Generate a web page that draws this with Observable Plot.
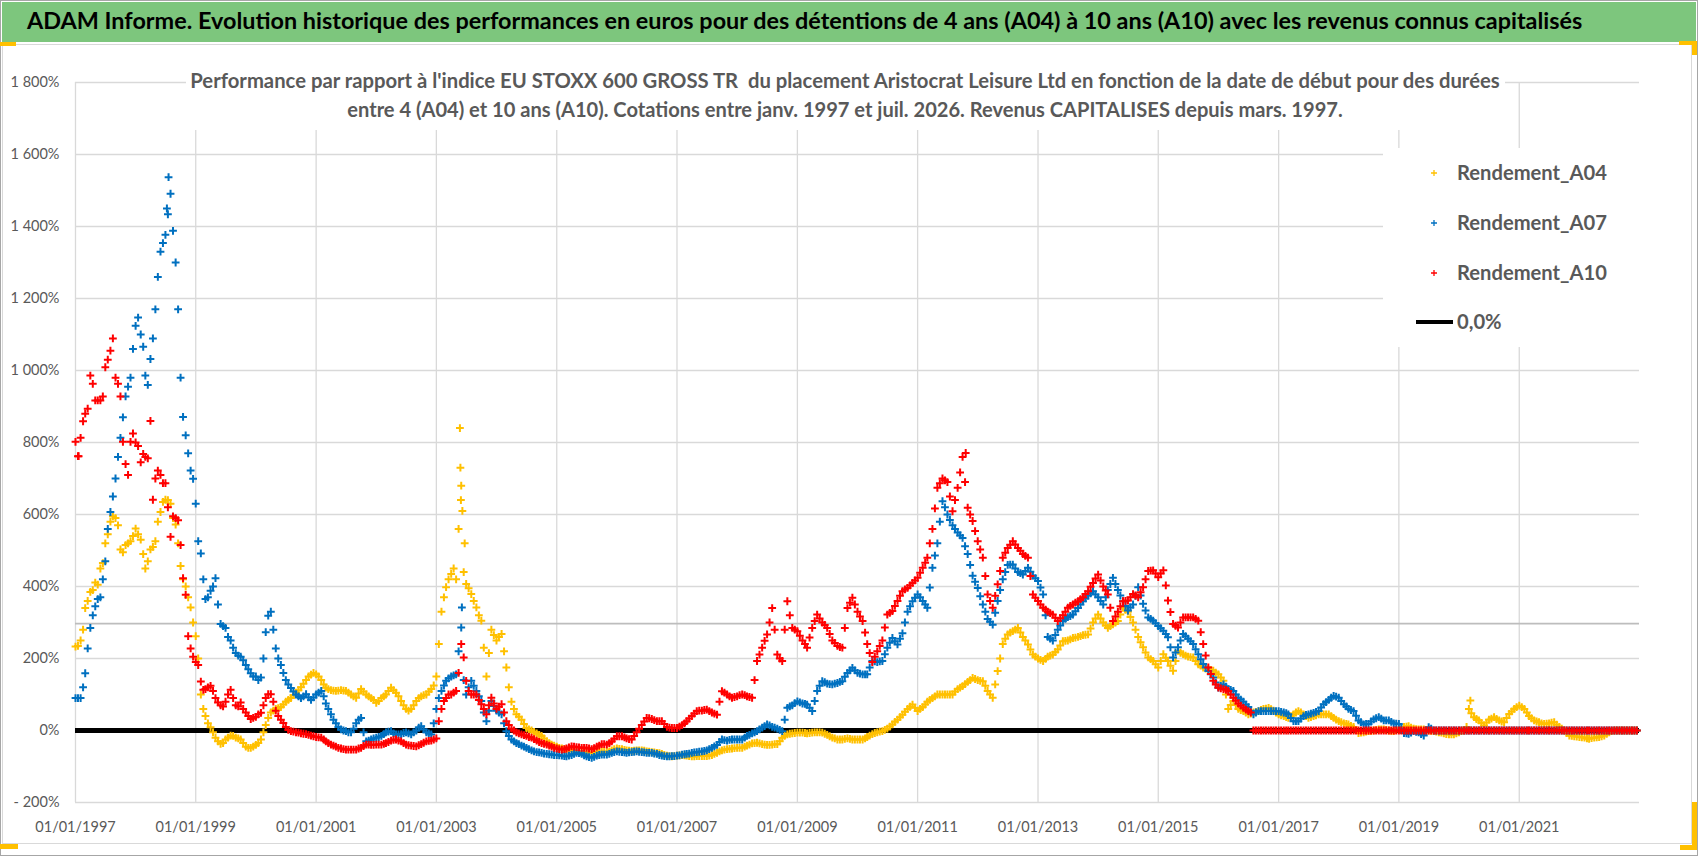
<!DOCTYPE html>
<html><head><meta charset="utf-8">
<script src="https://cdn.jsdelivr.net/npm/d3@7"></script>
<script src="https://cdn.jsdelivr.net/npm/@observablehq/plot@0.6"></script>
<style>
html,body{margin:0;padding:0;background:#fff;}
#root{position:relative;width:1698px;height:856px;overflow:hidden;font-family:Lato,"Open Sans",sans-serif;}
.box{position:absolute;box-sizing:border-box;}
.txt{position:absolute;white-space:pre;line-height:1;}
#root svg{position:absolute;left:0;top:0;}
</style></head><body><div id="root"></div>
<script>
// ---------- data: readings on the 1st of each month (a0x) and mid-month (a0xMid), first = janv. 1997 ----------
const startYear = 1997;
const a04 = [
 233, 250, 340, 385, 411, 450, 520, 580, 590, 503, 515, 526,
 561, 530, 450, 503, 526, 607, 641, 630, 572, 457, 400, 342,
 262, 100, 40, 9, -20, -37, -25, -14, -20, -25, -45, -48,
 -40, -25, 15, 50, 60, 65, 80, 90, 105, 120, 140, 155,
 156, 140, 119, 112, 110, 112, 110, 100, 91, 115, 100, 90,
 77, 90, 100, 119, 105, 82, 60, 60, 82, 95, 100, 115,
 150, 330, 398, 435, 420, 680, 407, 379, 342, 305, 150, 280,
 250, 268, 175, 80, 45, 30, 7, 0, -8, -15, -30, -39,
 -45, -50, -55, -55, -58, -60, -62, -62, -60, -58, -60, -55,
 -50, -52, -55, -57, -55, -55, -58, -60, -62, -65, -70, -72,
 -70, -68, -70, -72, -71, -71, -71, -68, -62, -55, -52, -50,
 -48, -48, -42, -36, -34, -38, -40, -39, -38, -20, -11, -8,
 -6, -6, -8, -6, -5, -6, -12, -20, -25, -25, -22, -25,
 -25, -25, -18, -10, -5, -2, 5, 17, 30, 44, 60, 72,
 54, 65, 80, 90, 100, 100, 100, 100, 115, 123, 135, 146,
 140, 137, 110, 91, 165, 240, 267, 276, 285, 260, 239, 211,
 200, 193, 205, 211, 225, 248, 250, 257, 260, 265, 267, 300,
 322, 300, 285, 295, 304, 341, 330, 300, 260, 231, 203, 193,
 175, 212, 193, 166, 221, 212, 205, 203, 184, 175, 170, 166,
 156, 138, 60, 82, 60, 54, 45, 50, 54, 60, 63, 55,
 45, 40, 35, 45, 54, 45, 35, 40, 45, 45, 45, 35,
 26, 20, 17, 10, -7, -5, -2, 0, 3, 3, 0, -2,
 5, 10, 12, 5, 3, 3, 0, -2, -5, -8, -11, -11,
 -5, 0, 60, 37, 28, 14, 30, 37, 28, 23, 46, 60,
 69, 60, 40, 28, 23, 18, 20, 23, 10, 0, -14, -16,
 -18, -20, -23, -20, -18, -14, -5, 0, 0, 0, 0, 0
];
const a04Mid = [
 235, 280, 360, 390, 405, 465, 545, 595, 570, 495, 520, 540,
 545, 490, 470, 510, 580, 635, 640, 590, 520, 420, 370, 300,
 200, 60, 20, -5, -30, -35, -20, -15, -22, -35, -48, -45,
 -35, -5, 35, 55, 62, 72, 85, 98, 112, 130, 150, 160,
 150, 128, 115, 111, 111, 111, 105, 95, 103, 108, 95, 85,
 82, 95, 110, 112, 95, 70, 55, 70, 90, 98, 108, 125,
 240, 370, 420, 450, 560, 440, 395, 360, 320, 230, 215, 265,
 260, 220, 120, 60, 38, 18, 3, -4, -12, -22, -35, -42,
 -48, -52, -55, -57, -59, -61, -62, -61, -59, -59, -58, -52,
 -51, -54, -56, -56, -55, -56, -59, -61, -63, -68, -71, -71,
 -69, -69, -71, -72, -71, -71, -70, -65, -58, -53, -51, -49,
 -48, -45, -39, -35, -36, -39, -40, -38, -30, -15, -9, -7,
 -6, -7, -7, -5, -5, -9, -16, -22, -25, -23, -23, -25,
 -25, -22, -14, -7, -3, 2, 11, 24, 37, 52, 66, 63,
 60, 72, 85, 95, 100, 100, 100, 108, 119, 129, 140, 143,
 138, 124, 100, 128, 200, 255, 272, 280, 272, 250, 225, 205,
 196, 199, 208, 218, 236, 249, 253, 258, 262, 266, 283, 311,
 311, 292, 290, 300, 322, 335, 315, 280, 245, 217, 198, 184,
 193, 202, 180, 193, 216, 208, 204, 193, 180, 172, 168, 161,
 147, 100, 71, 71, 57, 50, 47, 52, 57, 61, 59, 50,
 42, 37, 40, 50, 50, 40, 37, 42, 45, 45, 40, 30,
 23, 18, 13, 2, -6, -3, -1, 2, 3, 2, -1, 2,
 7, 11, 8, 4, 3, 2, -1, -3, -6, -10, -11, -8,
 -2, 10, 48, 32, 21, 22, 33, 32, 25, 35, 53, 65,
 65, 50, 34, 25, 20, 19, 22, 16, 5, -7, -15, -17,
 -19, -22, -21, -19, -16, -9, -2, 0, 0, 0, 0, 0
];
const a07 = [
 90, 90, 159, 285, 345, 370, 470, 607, 700, 813, 928, 980,
 1124, 1100, 986, 1032, 1170, 1330, 1377, 1491, 1300, 980, 820, 722,
 630, 492, 365, 388, 423, 296, 285, 250, 215, 205, 182, 159,
 150, 147, 273, 330, 228, 182, 140, 118, 100, 90, 101, 85,
 100, 110, 75, 45, 20, 3, -2, -5, 20, 35, -30, -25,
 -20, -15, -5, -2, -11, -10, -5, -11, 0, 12, -5, -11,
 60, 110, 138, 150, 156, 286, 100, 138, 110, 82, 26, 82,
 55, 45, -2, -25, -35, -42, -48, -55, -60, -62, -65, -67,
 -68, -70, -72, -68, -62, -65, -72, -76, -70, -67, -67, -62,
 -58, -60, -62, -60, -58, -60, -62, -62, -65, -70, -72, -71,
 -70, -67, -65, -62, -60, -58, -55, -48, -40, -25, -28, -25,
 -25, -25, -15, -8, -2, 8, 17, 10, 5, -2, 63, 70,
 81, 75, 72, 54, 110, 137, 130, 128, 132, 137, 160, 174,
 160, 156, 156, 193, 190, 193, 230, 257, 239, 270, 330, 359,
 378, 360, 341, 452, 520, 637, 600, 570, 550, 535, 490, 430,
 396, 350, 310, 294, 360, 420, 460, 461, 440, 433, 452, 430,
 415, 378, 260, 250, 280, 304, 315, 322, 340, 359, 375, 387,
 370, 350, 390, 424, 390, 359, 333, 350, 398, 352, 314, 305,
 290, 277, 259, 203, 231, 268, 255, 240, 212, 185, 165, 147,
 119, 128, 115, 110, 91, 80, 65, 45, 54, 54, 54, 54,
 54, 50, 45, 26, 26, 40, 45, 49, 54, 73, 85, 96,
 91, 73, 60, 54, 28, 17, 18, 31, 37, 28, 28, 20,
 18, -7, -9, -2, -5, -14, 9, 0, 0, 0, 0, 0,
 0, 0, 0, 0, 0, 0, 0, 0, 0, 0, 0, 0,
 0, 0, 0, 0, 0, 0, 0, 0, 0, 0, 0, 0,
 0, 0, 0, 0, 0, 0, 0, 0, 0, 0, 0, 0
];
const a07Mid = [
 90, 120, 228, 320, 365, 420, 560, 650, 760, 870, 955, 1060,
 1147, 1066, 960, 1089, 1260, 1354, 1434, 1388, 1170, 871, 770, 699,
 526, 420, 370, 400, 350, 290, 260, 230, 208, 195, 170, 150,
 140, 200, 319, 280, 200, 160, 128, 108, 95, 95, 92, 92,
 105, 95, 60, 30, 10, 0, -5, 5, 30, -5, -28, -22,
 -18, -10, -3, -8, -11, -7, -8, -5, 8, 3, -8, 20,
 90, 125, 145, 153, 220, 140, 120, 124, 95, 50, 55, 68,
 50, 20, -15, -30, -38, -45, -52, -58, -61, -64, -66, -68,
 -69, -71, -70, -65, -63, -69, -74, -73, -68, -67, -65, -60,
 -59, -61, -61, -59, -59, -61, -62, -64, -68, -71, -72, -71,
 -69, -66, -64, -61, -59, -57, -52, -44, -32, -27, -26, -25,
 -25, -20, -12, -5, 3, 12, 14, 8, 2, 30, 67, 76,
 78, 74, 63, 82, 124, 134, 129, 130, 135, 149, 167, 167,
 158, 156, 175, 192, 192, 212, 244, 248, 255, 300, 345, 369,
 370, 350, 397, 486, 580, 620, 585, 560, 542, 512, 460, 413,
 373, 330, 302, 327, 390, 440, 461, 450, 437, 443, 441, 423,
 397, 320, 255, 265, 292, 310, 318, 331, 350, 367, 381, 378,
 360, 370, 407, 407, 375, 346, 342, 374, 375, 333, 310, 298,
 284, 268, 231, 217, 250, 262, 248, 226, 198, 175, 156, 133,
 124, 122, 113, 100, 86, 72, 55, 50, 54, 54, 54, 54,
 52, 48, 35, 26, 33, 43, 47, 52, 64, 79, 91, 94,
 82, 67, 57, 41, 23, 18, 25, 34, 33, 28, 24, 19,
 5, -8, -6, -4, -10, -3, 5, 0, 0, 0, 0, 0,
 0, 0, 0, 0, 0, 0, 0, 0, 0, 0, 0, 0,
 0, 0, 0, 0, 0, 0, 0, 0, 0, 0, 0, 0,
 0, 0, 0, 0, 0, 0, 0, 0, 0, 0, 0, 0
];
const a10 = [
 802, 813, 880, 986, 917, 917, 1009, 1055, 980, 928, 740, 802,
 800, 745, 760, 860, 700, 710, 687, 538, 590, 515, 377, 228,
 190, 136, 115, 124, 90, 70, 80, 113, 70, 78, 50, 32,
 38, 49, 90, 101, 55, 30, 10, -2, -5, -8, -10, -14,
 -18, -20, -30, -39, -45, -50, -53, -53, -53, -48, -39, -40,
 -39, -39, -35, -28, -25, -30, -39, -42, -44, -38, -30, -28,
 -22, 60, 90, 100, 110, 240, 138, 100, 100, 73, 45, 91,
 60, 73, 26, 5, -5, -11, -15, -20, -28, -35, -39, -45,
 -50, -53, -50, -44, -46, -48, -48, -52, -45, -38, -39, -30,
 -16, -16, -22, -25, -5, 15, 35, 32, 26, 26, 10, 7,
 7, 15, 26, 40, 54, 55, 58, 50, 44, 109, 100, 91,
 95, 100, 95, 91, 193, 230, 267, 340, 211, 193, 359, 285,
 276, 250, 230, 285, 322, 300, 285, 250, 235, 230, 340, 369,
 330, 304, 240, 190, 220, 250, 322, 332, 360, 387, 396, 410,
 424, 452, 480, 560, 674, 700, 690, 609, 674, 760, 619, 582,
 526, 480, 378, 341, 406, 480, 507, 526, 507, 490, 480, 378,
 360, 341, 330, 322, 304, 320, 341, 350, 359, 370, 387, 410,
 433, 400, 378, 304, 330, 359, 361, 379, 370, 398, 443, 445,
 426, 445, 361, 296, 286, 314, 314, 314, 305, 240, 175, 138,
 119, 115, 110, 91, 75, 63, 54, 0, 0, 0, 0, 0,
 0, 0, 0, 0, 0, 0, 0, 0, 0, 0, 0, 0,
 0, 0, 0, 0, 0, 0, 0, 0, 0, 0, 0, 0,
 0, 0, 0, 0, 0, 0, 0, 0, 0, 0, 0, 0,
 0, 0, 0, 0, 0, 0, 0, 0, 0, 0, 0, 0,
 0, 0, 0, 0, 0, 0, 0, 0, 0, 0, 0, 0,
 0, 0, 0, 0, 0, 0, 0, 0, 0, 0, 0, 0
];
const a10Mid = [
 762, 859, 894, 963, 917, 928, 1030, 1089, 963, 802, 710, 825,
 790, 768, 756, 641, 722, 687, 620, 595, 584, 423, 262, 205,
 182, 113, 120, 110, 78, 67, 100, 90, 67, 60, 40, 35,
 45, 70, 101, 80, 40, 21, 2, -3, -6, -9, -12, -16,
 -19, -25, -35, -42, -48, -52, -53, -53, -50, -43, -39, -40,
 -39, -37, -32, -26, -28, -35, -41, -43, -41, -34, -29, -25,
 26, 82, 100, 105, 160, 203, 110, 100, 85, 60, 70, 75,
 66, 50, 15, 0, -8, -13, -18, -24, -32, -37, -42, -48,
 -52, -52, -47, -45, -47, -48, -50, -49, -42, -38, -35, -23,
 -16, -19, -24, -15, 5, 25, 34, 29, 26, 18, 8, 7,
 11, 20, 33, 47, 55, 57, 54, 47, 80, 105, 95, 93,
 98, 98, 93, 140, 211, 249, 300, 280, 200, 280, 320, 280,
 263, 240, 258, 304, 311, 293, 268, 243, 232, 285, 355, 350,
 317, 272, 215, 205, 235, 286, 327, 346, 374, 392, 403, 417,
 438, 466, 520, 617, 687, 695, 650, 640, 717, 690, 600, 554,
 503, 429, 360, 374, 443, 494, 516, 517, 499, 485, 429, 369,
 350, 336, 326, 313, 312, 330, 346, 355, 365, 379, 399, 422,
 417, 389, 341, 317, 345, 360, 370, 375, 384, 420, 444, 436,
 436, 403, 329, 291, 300, 314, 314, 310, 273, 208, 157, 128,
 117, 113, 100, 83, 69, 58, 50, 0, 0, 0, 0, 0,
 0, 0, 0, 0, 0, 0, 0, 0, 0, 0, 0, 0,
 0, 0, 0, 0, 0, 0, 0, 0, 0, 0, 0, 0,
 0, 0, 0, 0, 0, 0, 0, 0, 0, 0, 0, 0,
 0, 0, 0, 0, 0, 0, 0, 0, 0, 0, 0, 0,
 0, 0, 0, 0, 0, 0, 0, 0, 0, 0, 0, 0,
 0, 0, 0, 0, 0, 0, 0, 0, 0, 0, 0, 0
];
// isolated readings (spikes)
const a04ExtraDates = ["2003-05-24", "2003-05-27", "2003-05-30", "2003-06-08", "2003-06-22", "2020-03-10"];
const a04ExtraValues = [840, 730, 640, 610, 520, 83];
const a07ExtraDates = ["1998-07-20", "1998-07-10", "2003-06-05"];
const a07ExtraValues = [1537, 1450, 342];
const a10ExtraDates = ["1997-01-20", "2011-10-20"];
const a10ExtraValues = [762, 771];

const seriesNames = ["Rendement_A04", "Rendement_A07", "Rendement_A10"];
const zeroName = "0,0%";
const xTickYears = [1997, 1999, 2001, 2003, 2005, 2007, 2009, 2011, 2013, 2015, 2017, 2019, 2021];
const yTicks = [-200, 0, 200, 400, 600, 800, 1000, 1200, 1400, 1600, 1800];
const xDomain = ["1997-01-01", "2023-01-01"];
const refLine = [297];
const zeroLine = [0];
const titleText = "ADAM Informe. Evolution historique des performances en euros pour des détentions de 4 ans (A04) à 10 ans (A10) avec les revenus connus capitalisés";
const subtitleLines = [
 "Performance par rapport à l'indice EU STOXX 600 GROSS TR  du placement Aristocrat Leisure Ltd en fonction de la date de début pour des durées",
 "entre 4 (A04) et 10 ans (A10). Cotations entre janv. 1997 et juil. 2026. Revenus CAPITALISES depuis mars. 1997."
];

// ---------- build ----------
const colors = ["#ffc000", "#0070c0", "#ff0000"];
const parse = d3.utcParse("%Y-%m-%d");
function onDay(values, day) { return values.map((v, i) => ({date: new Date(Date.UTC(startYear, i, day)), value: v})); }
function extra(dates, values) { return dates.map((d, i) => ({date: parse(d), value: values[i]})); }
const rows = [
  onDay(a04, 1).concat(onDay(a04Mid, 16), extra(a04ExtraDates, a04ExtraValues)),
  onDay(a07, 1).concat(onDay(a07Mid, 16), extra(a07ExtraDates, a07ExtraValues)),
  onDay(a10, 1).concat(onDay(a10Mid, 16), extra(a10ExtraDates, a10ExtraValues))
];
const xTicks = xTickYears.map(y => new Date(Date.UTC(y, 0, 1)));
const fmtY = v => (v < 0 ? "- " : "") + d3.format(",")(Math.abs(v)).replace(/,/g, "\u00a0") + "%";
const plusSym = {draw(ctx, size) { const h = Math.sqrt(size / Math.PI); ctx.moveTo(-h, 0); ctx.lineTo(h, 0); ctx.moveTo(0, -h); ctx.lineTo(0, h); }};

const root = document.getElementById("root");
const W = 1698, H = 856;

function box(l, t, w, h, css) { const d = document.createElement("div"); d.className = "box"; Object.assign(d.style, {left: l + "px", top: t + "px", width: w + "px", height: h + "px"}, css); root.appendChild(d); return d; }

box(2, 2, 1694, 40, {background: "#7dc67d"});

const chart = Plot.plot({
  width: W, height: H,
  marginLeft: 75, marginRight: 59, marginTop: 82, marginBottom: 54,
  style: {background: "none", fontFamily: "Lato, sans-serif", overflow: "visible"},
  x: {type: "utc", domain: xDomain.map(parse)},
  y: {domain: [-200, 1800]},
  marks: [
    Plot.gridX(xTicks, {stroke: "#d9d9d9", strokeOpacity: 1, strokeWidth: 1.3}),
    Plot.gridY(yTicks, {stroke: "#d9d9d9", strokeOpacity: 1, strokeWidth: 1.3}),
    Plot.ruleY(refLine, {stroke: "#bdbdbd", strokeWidth: 1.6}),
    Plot.ruleY(zeroLine, {stroke: "#000", strokeWidth: 5}),
    ...rows.map((r, i) => Plot.dot(r, {x: "date", y: "value", symbol: plusSym, r: 3.9, stroke: colors[i], fill: "none", strokeWidth: 2})),
    Plot.axisX(xTicks, {tickSize: 0, tickPadding: 19, tickFormat: d3.utcFormat("%d/%m/%Y"), fontSize: 14.5, fill: "#595959", label: null}),
    Plot.axisY(yTicks, {tickSize: 0, tickPadding: 16, tickFormat: fmtY, fontSize: 14.5, fill: "#595959", label: null})
  ]
});
root.appendChild(chart);

// frames and handles
box(0, 0, 1698, 856, {border: "1px solid #a6a6a6"});
box(2, 44, 1690, 800, {border: "1px solid #d9d9d9"});
const Y = "#ffc000";
box(0, 42, 16, 4, {background: Y});
box(1679, 41, 18, 4, {background: Y});
box(1692, 41, 5, 14, {background: Y});
box(0, 844, 18, 5, {background: Y});
box(1692, 802, 5, 48, {background: Y});
box(1680, 845, 17, 5, {background: Y});

// subtitle and legend white panels
box(186, 60, 1319, 70, {background: "#fff"});
box(1383, 148, 259, 199, {background: "#fff"});

function text(str, o) {
  const el = document.createElement("div");
  el.className = "txt"; el.textContent = str;
  el.style.fontWeight = o.weight || "bold"; el.style.color = o.color; el.style.fontSize = o.size + "px";
  root.appendChild(el);
  let fs = o.size;
  if (o.width) { const w = el.getBoundingClientRect().width; fs = o.size * o.width / w; el.style.fontSize = fs + "px"; }
  const r = el.getBoundingClientRect();
  const x0 = o.left != null ? o.left : o.cx - r.width / 2;
  el.style.left = x0 + "px"; el.style.top = (o.cy - 0.56 * fs) + "px";
  return fs;
}
text(titleText, {left: 27, cy: 22, width: 1556, size: 24, color: "#000"});
text(subtitleLines[0], {cx: 845, cy: 81, width: 1310, size: 18, color: "#595959"});
text(subtitleLines[1], {cx: 845, cy: 110, width: 996, size: 18, color: "#595959"});

// legend
const legY = [173, 223, 273, 322];
const lfs = text(seriesNames[0], {left: 1457, cy: legY[0], width: 150, size: 20, color: "#595959"});
text(seriesNames[1], {left: 1457, cy: legY[1], size: lfs, color: "#595959"});
text(seriesNames[2], {left: 1457, cy: legY[2], size: lfs, color: "#595959"});
text(zeroName, {left: 1457, cy: legY[3], size: lfs, color: "#595959"});
const ns = "http://www.w3.org/2000/svg";
const lsvg = document.createElementNS(ns, "svg");
lsvg.setAttribute("width", 60); lsvg.setAttribute("height", 200);
lsvg.style.left = "1400px"; lsvg.style.top = "148px";
colors.forEach((c, i) => {
  const p = document.createElementNS(ns, "path");
  const cx = 34, cy = legY[i] - 148;
  p.setAttribute("d", `M${cx - 3},${cy}H${cx + 3}M${cx},${cy - 3}V${cy + 3}`);
  p.setAttribute("stroke", c); p.setAttribute("stroke-width", 1.3); p.setAttribute("fill", "none");
  lsvg.appendChild(p);
});
const ln = document.createElementNS(ns, "line");
ln.setAttribute("x1", 16); ln.setAttribute("x2", 53); ln.setAttribute("y1", legY[3] - 148); ln.setAttribute("y2", legY[3] - 148);
ln.setAttribute("stroke", "#000"); ln.setAttribute("stroke-width", 4);
lsvg.appendChild(ln);
root.appendChild(lsvg);
</script>
</body></html>
